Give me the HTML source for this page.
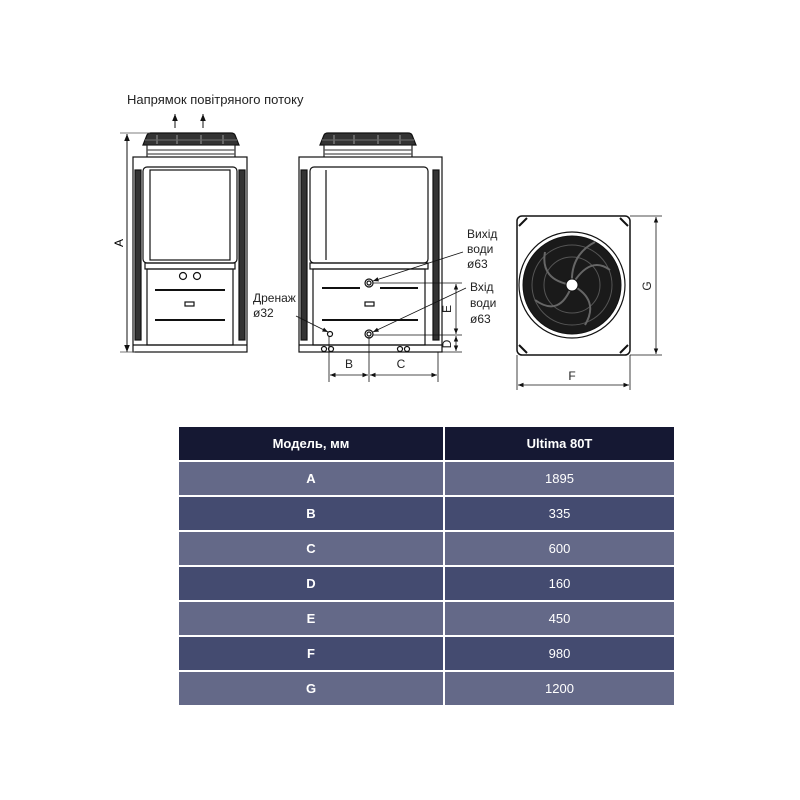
<!DOCTYPE html>
<html><head><meta charset="utf-8"><style>
body{margin:0;background:#fff;width:800px;height:800px;overflow:hidden;font-family:"Liberation Sans",sans-serif}
svg{position:absolute;left:0;top:0}
table{position:absolute;left:177px;top:425px;width:499px;border-collapse:collapse;color:#fff;font-size:13px;text-align:center}
td{height:33px;border:2px solid #fff;padding:0}
tr.h td{background:#151833;font-weight:bold}
tr.l td{background:#646988}
tr.d td{background:#444b70}
td.k{font-weight:bold;width:264px}
</style></head><body>
<svg width="800" height="420" viewBox="0 0 800 420" font-family="Liberation Sans, sans-serif">
<defs>
<marker id="ar" viewBox="0 0 10 10" refX="10" refY="5" markerWidth="7" markerHeight="7" orient="auto-start-reverse"><path d="M0,1 L10,5 L0,9 z" fill="#111"/></marker>
<g id="cap"><path d="M0,12 L4,2 Q5,0 8,0 L88,0 Q91,0 92,2 L96,12 Z" fill="#333" stroke="#111"/>
<line x1="14" y1="2" x2="14" y2="11" stroke="#888"/><line x1="34" y1="2" x2="34" y2="11" stroke="#888"/><line x1="58" y1="2" x2="58" y2="11" stroke="#888"/><line x1="80" y1="2" x2="80" y2="11" stroke="#888"/>
<line x1="2" y1="7" x2="94" y2="7" stroke="#666"/>
<rect x="4" y="12" width="88" height="15" fill="#fff" stroke="#222"/><line x1="4" y1="17" x2="92" y2="17" stroke="#555"/><line x1="4" y1="21" x2="92" y2="21" stroke="#555"/></g>
</defs>
<text x="127" y="104" font-size="13" fill="#222">Напрямок повітряного потоку</text>
<line x1="175" y1="128" x2="175" y2="114" stroke="#111" marker-end="url(#ar)"/>
<line x1="203" y1="128" x2="203" y2="114" stroke="#111" marker-end="url(#ar)"/>
<!-- left unit -->
<g stroke="#111" fill="none" stroke-width="1.2">
<use href="#cap" x="143" y="133"/>
<rect x="133" y="157" width="114" height="195" fill="#fff"/>
<rect x="135" y="170" width="6" height="170" fill="#333"/>
<rect x="239" y="170" width="6" height="170" fill="#333"/>
<rect x="143" y="167" width="94" height="96" rx="4"/>
<rect x="150" y="170" width="80" height="90"/>
<rect x="145" y="263" width="90" height="6"/>
<rect x="147" y="269" width="86" height="76"/>
<line x1="133" y1="345" x2="247" y2="345"/>
<circle cx="183" cy="276" r="3.5"/><circle cx="197" cy="276" r="3.5"/>
<line x1="155" y1="290" x2="225" y2="290" stroke-width="2"/><line x1="155" y1="320" x2="225" y2="320" stroke-width="2"/>
<rect x="185" y="302" width="9" height="4"/>
</g>
<line x1="127" y1="352" x2="127" y2="134" stroke="#111" marker-end="url(#ar)" marker-start="url(#ar)"/>
<line x1="120" y1="133" x2="150" y2="133" stroke="#555" stroke-width=".8"/>
<line x1="120" y1="352" x2="135" y2="352" stroke="#555" stroke-width=".8"/>
<text x="123" y="243" font-size="12" transform="rotate(-90 123 243)" text-anchor="middle">A</text>
<!-- middle unit -->
<g stroke="#111" fill="none" stroke-width="1.2">
<use href="#cap" x="320" y="133"/>
<rect x="299" y="157" width="143" height="195" fill="#fff"/>
<rect x="301" y="170" width="6" height="170" fill="#333"/>
<rect x="433" y="170" width="6" height="170" fill="#333"/>
<rect x="310" y="167" width="118" height="96" rx="4"/>
<line x1="326" y1="170" x2="326" y2="260"/>
<rect x="310" y="263" width="118" height="6"/>
<rect x="313" y="269" width="112" height="76"/>
<line x1="299" y1="345" x2="442" y2="345"/>
<line x1="322" y1="288" x2="360" y2="288" stroke-width="2"/><line x1="380" y1="288" x2="418" y2="288" stroke-width="2"/>
<line x1="322" y1="320" x2="418" y2="320" stroke-width="2"/>
<rect x="365" y="302" width="9" height="4"/>
<circle cx="369" cy="283" r="4"/><circle cx="369" cy="283" r="2"/>
<circle cx="369" cy="334" r="4"/><circle cx="369" cy="334" r="2"/>
<circle cx="330" cy="334" r="2.5"/>
<circle cx="324" cy="349" r="2.5"/><circle cx="331" cy="349" r="2.5"/><circle cx="400" cy="349" r="2.5"/><circle cx="407" cy="349" r="2.5"/>
</g>
<g stroke="#111" stroke-width=".8">
<line x1="329" y1="336" x2="329" y2="382"/><line x1="369" y1="337" x2="369" y2="382"/><line x1="438" y1="352" x2="438" y2="382"/>
<line x1="373" y1="283" x2="462" y2="283"/><line x1="373" y1="335" x2="462" y2="335"/><line x1="442" y1="352" x2="462" y2="352"/>
<line x1="330" y1="375" x2="368" y2="375" marker-end="url(#ar)" marker-start="url(#ar)"/>
<line x1="370" y1="375" x2="437" y2="375" marker-end="url(#ar)" marker-start="url(#ar)"/>
<line x1="456" y1="284" x2="456" y2="334" marker-end="url(#ar)" marker-start="url(#ar)"/>
<line x1="456" y1="336" x2="456" y2="351" marker-end="url(#ar)" marker-start="url(#ar)"/>
<line x1="463" y1="252" x2="373" y2="281" marker-end="url(#ar)"/>
<line x1="466" y1="288" x2="373" y2="332" marker-end="url(#ar)"/>
<line x1="296" y1="316" x2="328" y2="332" marker-end="url(#ar)"/>
</g>
<g font-size="12" fill="#222">
<text x="349" y="368" text-anchor="middle">B</text>
<text x="401" y="368" text-anchor="middle">C</text>
<text x="451" y="309" transform="rotate(-90 451 309)" text-anchor="middle">E</text>
<text x="451" y="344" transform="rotate(-90 451 344)" text-anchor="middle">D</text>
<text x="253" y="302">Дренаж</text><text x="253" y="317">ø32</text>
<text x="467" y="238">Вихід</text><text x="467" y="253">води</text><text x="467" y="268">ø63</text>
<text x="470" y="291">Вхід</text><text x="470" y="307">води</text><text x="470" y="323">ø63</text>
<text x="572" y="380" text-anchor="middle">F</text>
<text x="651" y="286" transform="rotate(-90 651 286)" text-anchor="middle">G</text>
</g>
<!-- fan -->
<g stroke="#111" fill="none">
<rect x="517" y="216" width="113" height="139" rx="5" stroke-width="1.5" fill="#fff"/>
<path d="M519,226 L527,218 M620,218 L628,226 M519,345 L527,353 M620,353 L628,345" stroke-width="2"/>
<circle cx="572" cy="285" r="53" stroke-width="1.2"/>
<circle cx="572" cy="285" r="49" fill="#1a1a1a"/>
<circle cx="572" cy="285" r="40" stroke="#555"/>
<circle cx="572" cy="285" r="28" stroke="#555"/>
<path d="M572,285 Q590,255 610,270 M572,285 Q600,300 585,325 M572,285 Q560,318 535,300 M572,285 Q540,280 545,252 M572,285 Q570,255 595,242" stroke="#666" stroke-width="2"/>
<circle cx="572" cy="285" r="6" fill="#fff"/>
</g>
<g stroke="#111" stroke-width=".8">
<line x1="517" y1="355" x2="517" y2="390"/><line x1="630" y1="355" x2="630" y2="390"/>
<line x1="518" y1="385" x2="629" y2="385" marker-end="url(#ar)" marker-start="url(#ar)"/>
<line x1="630" y1="216" x2="662" y2="216"/><line x1="630" y1="355" x2="662" y2="355"/>
<line x1="656" y1="217" x2="656" y2="354" marker-end="url(#ar)" marker-start="url(#ar)"/>
</g>
</svg>
<table>
<tr class="h"><td class="k">Модель, мм</td><td style="font-weight:bold">Ultima 80T</td></tr>
<tr class="l"><td class="k">A</td><td>1895</td></tr>
<tr class="d"><td class="k">B</td><td>335</td></tr>
<tr class="l"><td class="k">C</td><td>600</td></tr>
<tr class="d"><td class="k">D</td><td>160</td></tr>
<tr class="l"><td class="k">E</td><td>450</td></tr>
<tr class="d"><td class="k">F</td><td>980</td></tr>
<tr class="l"><td class="k">G</td><td>1200</td></tr>
</table>
</body></html>
